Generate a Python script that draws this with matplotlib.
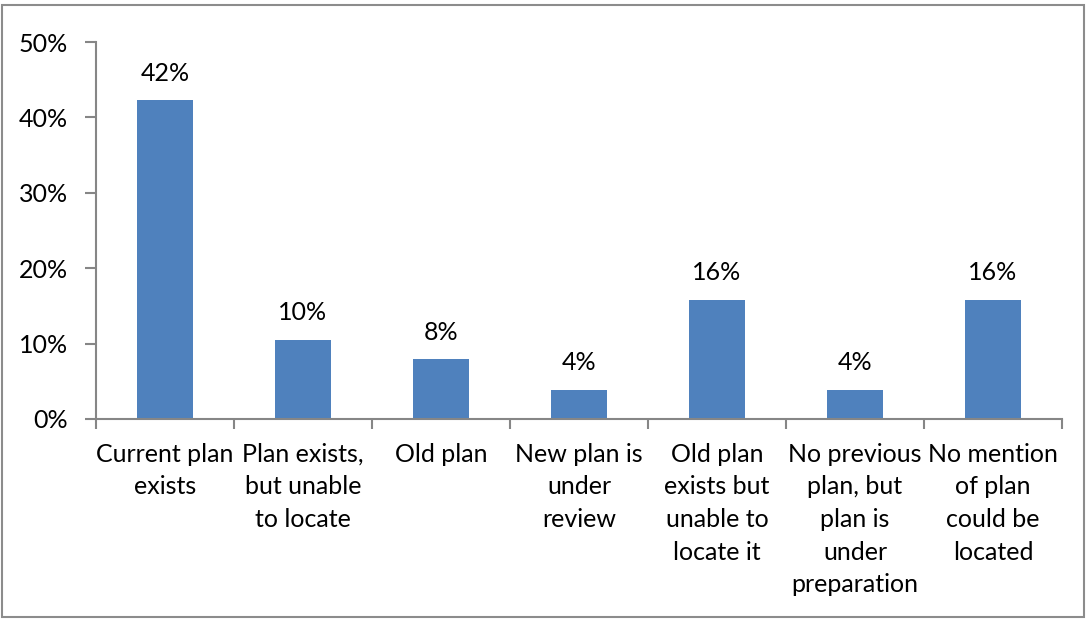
import matplotlib
matplotlib.use("Agg")
import matplotlib.pyplot as plt
from matplotlib.patches import Rectangle
from matplotlib.ticker import FuncFormatter, FixedLocator

categories = [
    "Current plan\nexists",
    "Plan exists,\nbut unable\nto locate",
    "Old plan",
    "New plan is\nunder\nreview",
    "Old plan\nexists but\nunable to\nlocate it",
    "No previous\nplan, but\nplan is\nunder\npreparation",
    "No mention\nof plan\ncould be\nlocated",
]
shares = [0.423, 0.105, 0.079, 0.039, 0.158, 0.039, 0.158]
y_ticks = [0.0, 0.1, 0.2, 0.3, 0.4, 0.5]

plt.rcParams["font.family"] = ["Lato", "DejaVu Sans"]
FS = 18
BAR = "#4F81BD"
AXIS = "#868686"

fig = plt.figure(figsize=(10.86, 6.19), dpi=100)
ax = fig.add_axes([96 / 1086, 1 - 419 / 619, (1062 - 96) / 1086, (419 - 42) / 619])

x = range(len(categories))
ax.bar(x, shares, width=0.4, color=BAR, zorder=2)

for xi, v in zip(x, shares):
    ax.annotate(f"{v * 100:.0f}%", (xi, v), xytext=(0, 14), textcoords="offset points",
                ha="center", va="baseline", fontsize=FS, color="black")

ax.set_xlim(-0.5, len(categories) - 0.5)
ax.set_ylim(0, 0.5)
ax.yaxis.set_major_locator(FixedLocator(y_ticks))
ax.yaxis.set_major_formatter(FuncFormatter(lambda v, _: f"{v * 100:.0f}%"))

ax.set_xticks(list(x))
ax.set_xticklabels(categories, fontsize=FS, linespacing=1.51, va="top")
ax.xaxis.set_minor_locator(FixedLocator([i - 0.5 for i in range(len(categories) + 1)]))
ax.tick_params(axis="x", which="major", length=0, pad=17)
ax.tick_params(axis="x", which="minor", length=7, width=1.5, color=AXIS, direction="out")
ax.tick_params(axis="y", which="major", length=8, width=1.5, color=AXIS, direction="out",
               labelsize=FS, pad=12)

for side in ("top", "right"):
    ax.spines[side].set_visible(False)
for side in ("left", "bottom"):
    ax.spines[side].set_color(AXIS)
    ax.spines[side].set_linewidth(1.5)

fig.patches.append(Rectangle((2 / 1086, 2 / 619), 1082 / 1086, 612 / 619,
                             transform=fig.transFigure, fill=False,
                             edgecolor="#8c8c8c", linewidth=1.5))

fig.savefig("out.png", dpi=100)
